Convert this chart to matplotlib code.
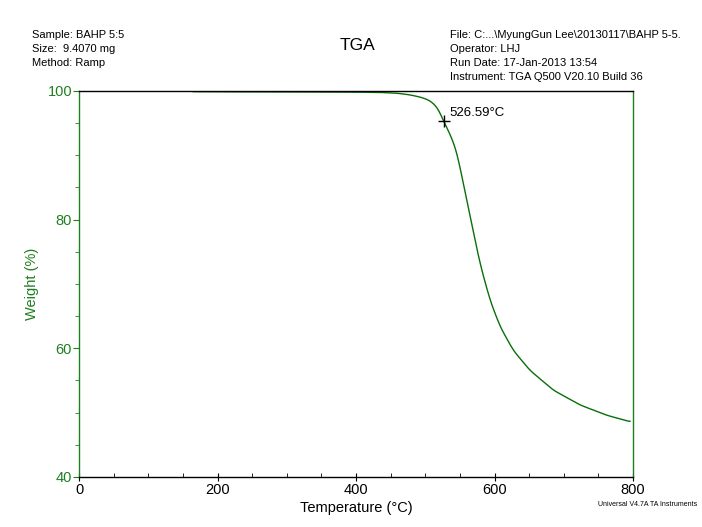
import numpy as np
import matplotlib.pyplot as plt
from matplotlib.ticker import MultipleLocator

plt.rcParams['font.family'] = ['Liberation Sans', 'DejaVu Sans']

# TGA curve
temperature = [165, 200, 250, 300, 350, 400, 435, 460, 478, 495, 507, 518, 526.59,
               535, 545, 555, 567, 579, 593.5, 608, 627, 651, 685, 723.5, 762, 795.7]
weight = [99.9, 99.88, 99.86, 99.85, 99.84, 99.82, 99.78, 99.65, 99.4, 99.0, 98.5, 97.4, 95.3,
          93.5, 90.8, 85.65, 79.4, 73.2, 67.5, 63.4, 59.7, 56.6, 53.5, 51.2, 49.6, 48.6]

marker_t = 526.59
marker_w = 95.3

left_info = ['Sample: BAHP 5:5', 'Size:  9.4070 mg', 'Method: Ramp']
right_info = ['File: C:...\\MyungGun Lee\\20130117\\BAHP 5-5.',
              'Operator: LHJ',
              'Run Date: 17-Jan-2013 13:54',
              'Instrument: TGA Q500 V20.10 Build 36']

green = '#1f7f1f'
line_green = '#0a6e0a'

fig = plt.figure(figsize=(7.02, 5.27), dpi=100)
ax = fig.add_axes([79/702, 1-477/527, (633-79)/702, (477-91)/527])

# smooth the read points for drawing
t_fine = np.linspace(temperature[0], temperature[-1], 1200)
w_fine = np.interp(t_fine, temperature, weight)
for k in (8, 8):
    w_fine = np.convolve(np.pad(w_fine, k, mode='edge'), np.ones(2*k+1)/(2*k+1), mode='valid')
ax.plot(t_fine, w_fine, color=line_green, lw=1.0)

ax.plot(marker_t, marker_w, marker='+', color='black', ms=9, mew=1.0)
ax.text(marker_t + 9, marker_w + 0.4, '%.2f°C' % marker_t, fontsize=9.5, va='bottom', ha='left')

ax.set_xlim(0, 800)
ax.set_ylim(40, 100)
ax.xaxis.set_major_locator(MultipleLocator(200))
ax.xaxis.set_minor_locator(MultipleLocator(50))
ax.yaxis.set_major_locator(MultipleLocator(20))
ax.yaxis.set_minor_locator(MultipleLocator(5))

ax.tick_params(axis='x', which='major', direction='inout', length=6, labelsize=10.5, pad=1)
ax.tick_params(axis='x', which='minor', direction='in', length=3)
ax.tick_params(axis='y', which='major', direction='out', length=4, colors=green, labelsize=10.5, pad=1)
ax.tick_params(axis='y', which='minor', direction='out', length=3, colors=green)

ax.spines['left'].set_color(green)
ax.spines['right'].set_color(green)
ax.spines['top'].set_color('black')
ax.spines['bottom'].set_color('black')
for s in ax.spines.values():
    s.set_linewidth(1.0)

ax.set_xlabel('Temperature (°C)', fontsize=10.5, labelpad=3)
ax.set_ylabel('Weight (%)', fontsize=10.5, color=green, labelpad=6)

fig.text(357/702, 1-45/527, 'TGA', fontsize=12.5, ha='center', va='center')
for i, line in enumerate(left_info):
    fig.text(32/702, 1-(35+14*i)/527, line, fontsize=8, ha='left', va='center')
for i, line in enumerate(right_info):
    fig.text(450/702, 1-(35+14*i)/527, line, fontsize=8, ha='left', va='center')
fig.text(697/702, 1-504/527, 'Universal V4.7A TA Instruments', fontsize=5, ha='right', va='center')

fig.savefig('out.png', dpi=100)
